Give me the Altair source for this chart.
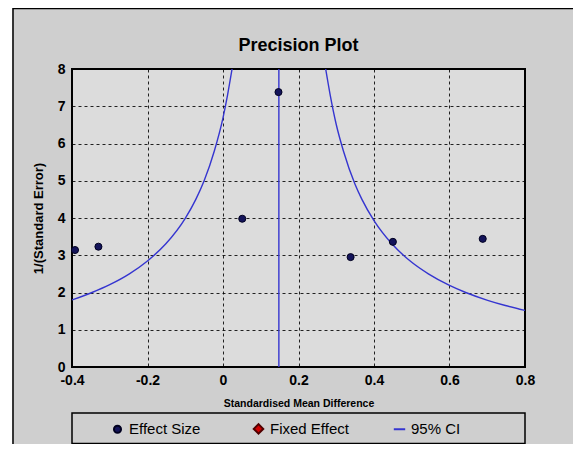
import altair as alt
import pandas as pd

# ---- data ----
series_names = ["Effect Size", "Fixed Effect", "95% CI"]
series_colors = ["#14145a", "#d00000", "#3535d0"]
series_shapes = ["circle", "diamond", "stroke"]
series_sizes = [50, 130, 200]

effect_x = [-0.392, -0.330, 0.051, 0.147, 0.338, 0.450, 0.688]
effect_y = [3.14, 3.23, 3.98, 7.38, 2.95, 3.36, 3.44]

fixed_effect_x = 0.148

ci_left_x = [-0.400, -0.347, -0.300, -0.248, -0.201, -0.152, -0.100, -0.072, -0.050, -0.023, 0.000, 0.012, 0.024]
ci_left_y = [1.80, 2.00, 2.21, 2.50, 2.84, 3.30, 3.99, 4.50, 5.00, 5.80, 6.69, 7.30, 8.00]
ci_right_x = [0.800, 0.748, 0.701, 0.643, 0.600, 0.544, 0.500, 0.448, 0.400, 0.368, 0.350, 0.319, 0.300, 0.284, 0.272]
ci_right_y = [1.52, 1.65, 1.79, 2.00, 2.19, 2.50, 2.81, 3.30, 3.93, 4.50, 4.90, 5.80, 6.51, 7.30, 8.00]

x_ticks = [-0.4, -0.2, 0, 0.2, 0.4, 0.6, 0.8]
y_ticks = [0, 1, 2, 3, 4, 5, 6, 7, 8]

W, H = 453, 298
FONT = "Liberation Sans"

points_df = pd.DataFrame({"x": effect_x, "y": effect_y, "series": ["Effect Size"] * len(effect_x)})
ci_df = pd.concat([
    pd.DataFrame({"x": ci_left_x, "y": ci_left_y, "side": "left"}),
    pd.DataFrame({"x": ci_right_x, "y": ci_right_y, "side": "right"}),
])
fe_df = pd.DataFrame({"x": [fixed_effect_x], "y": [y_ticks[0]], "y2": [y_ticks[-1]]})
one = pd.DataFrame({"a": [0]})

xscale = alt.Scale(domain=[x_ticks[0], x_ticks[-1]], nice=False, zero=False)
yscale = alt.Scale(domain=[y_ticks[0], y_ticks[-1]], nice=False, zero=False)

xaxis = alt.Axis(values=x_ticks, title="Standardised Mean Difference",
                 labelExpr="datum.value == 0 ? '0' : toString(round(datum.value*10)/10)",
                 titleFontSize=10.5, titlePadding=11, labelPadding=6,
                 labelFlush=False, labelOverlap=False)
yaxis = alt.Axis(values=y_ticks, title="1/(Standard Error)", titleFontSize=13,
                 titlePadding=12, labelPadding=7, labelFlush=False, labelOverlap=False)


def X():
    return alt.X("x:Q", scale=xscale, axis=xaxis)


def Y():
    return alt.Y("y:Q", scale=yscale, axis=yaxis)


# decorative frame of the figure
frame = alt.Chart(one).mark_rect(fillOpacity=0, stroke="black", strokeWidth=1.5).encode(
    x=alt.value(-59), x2=alt.value(W + 80), y=alt.value(-60.5), y2=alt.value(H + 120))
strip = alt.Chart(one).mark_rect(fill="white").encode(
    x=alt.value(-80), x2=alt.value(-59.75), y=alt.value(-80), y2=alt.value(H + 120))
legend_box = alt.Chart(one).mark_rect(fillOpacity=0, stroke="black", strokeWidth=1.5).encode(
    x=alt.value(0), x2=alt.value(W), y=alt.value(344), y2=alt.value(374.5))

ci_lines = alt.Chart(ci_df).mark_line(color=series_colors[2], strokeWidth=1.4, interpolate="monotone", clip=True).encode(
    x=X(), y=Y(), detail="side:N",
)

fe_rule = alt.Chart(fe_df).mark_rule(color=series_colors[2], strokeWidth=1.4).encode(
    x=X(), y=Y(), y2="y2:Q")

leg = alt.Legend(orient="none", legendX=38, legendY=352, direction="horizontal", columns=3,
                 gridAlign="all", columnPadding=40, labelFontSize=15, labelFont=FONT,
                 labelColor="black", labelOffset=4, symbolStrokeWidth=2, padding=0)

pts = alt.Chart(points_df).mark_point(filled=True, opacity=1, strokeWidth=1).encode(
    x=X(), y=Y(),
    color=alt.Color("series:N", title=None, scale=alt.Scale(domain=series_names, range=series_colors), legend=leg),
    stroke=alt.Stroke("series:N", title=None, scale=alt.Scale(domain=series_names, range=["#000020", "#500000", series_colors[2]]), legend=leg),
    shape=alt.Shape("series:N", title=None, scale=alt.Scale(domain=series_names, range=series_shapes), legend=leg),
    size=alt.Size("series:N", title=None, scale=alt.Scale(domain=series_names, range=series_sizes), legend=leg),
)

chart = alt.layer(strip, frame, legend_box, ci_lines, fe_rule, pts).properties(
    width=W, height=H,
    title=alt.Title("Precision Plot", fontSize=18, font=FONT, fontWeight="bold", color="black",
                    anchor="middle", frame="group", offset=-66),
    autosize=alt.AutoSizeParams(type="none"),
    padding={"left": 64, "top": 61, "right": 48, "bottom": 77},
    background="#cfcfcf",
).configure_view(
    fill="#dcdcdc", stroke="black", strokeWidth=2
).configure_axis(
    labelFont=FONT, labelFontSize=14, labelFontWeight="bold", labelColor="black",
    titleFont=FONT, titleFontWeight="bold", titleColor="black",
    grid=True, gridColor="black", gridDash=[3, 3], gridOpacity=0.85, gridWidth=1,
    domain=False, ticks=False,
)

chart.save("out.html", embed_options={"renderer": "svg", "actions": False})
